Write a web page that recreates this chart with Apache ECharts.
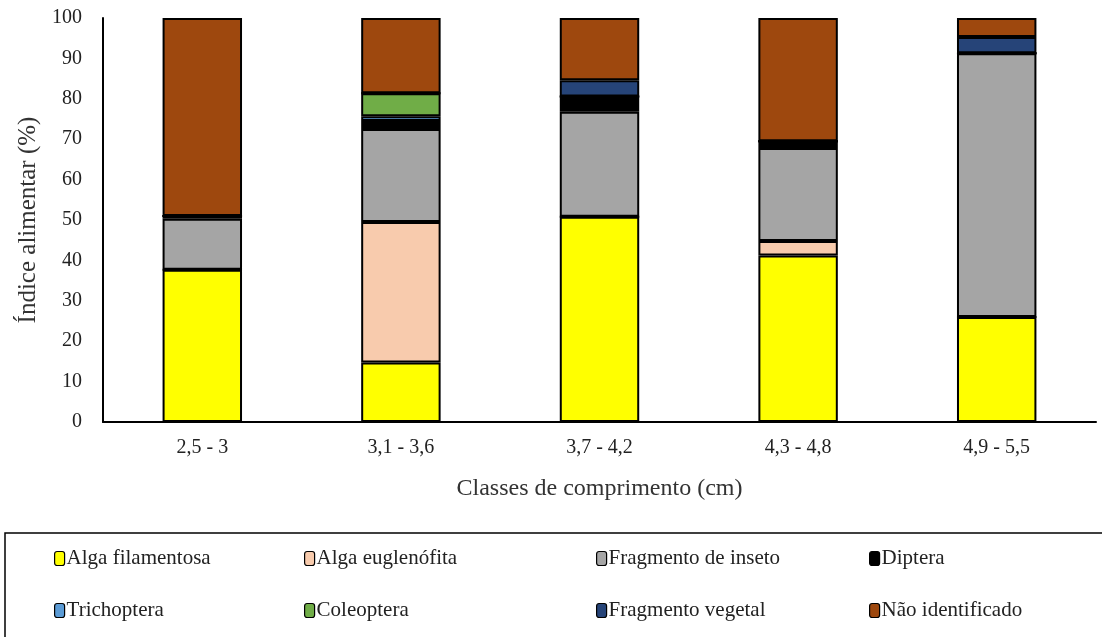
<!DOCTYPE html>
<html>
<head>
<meta charset="utf-8">
<script src="https://cdn.jsdelivr.net/npm/echarts@6/dist/echarts.min.js"></script>
<style>
  html, body { margin: 0; padding: 0; background: #fff; }
  #main { width: 1102px; height: 637px; }
</style>
</head>
<body>
<div id="main"></div>
<script>
// 类别与数据
const classes = ["2,5 - 3", "3,1 - 3,6", "3,7 - 4,2", "4,3 - 4,8", "4,9 - 5,5"];
const algaFilamentosa = [37.7, 14.7, 50.8, 41.2, 26.0];
const algaEuglenofita = [0, 34.8, 0, 3.6, 0];
const fragInseto = [12.6, 23.0, 26.0, 23.0, 65.3];
const diptera = [0.7, 2.0, 3.8, 1.7, 0];
const trichoptera = [0, 1.2, 0, 0, 0];
const coleoptera = [0, 5.7, 0, 0, 0];
const fragVegetal = [0, 0, 4.0, 0, 4.0];
const naoIdentificado = [49.0, 18.6, 15.4, 30.5, 4.7];
const yTicks = [0, 100, 10];

const seriesDefs = [
  { name: "Alga filamentosa", data: algaFilamentosa, color: "#ffff00" },
  { name: "Alga euglenófita", data: algaEuglenofita, color: "#f8cbad" },
  { name: "Fragmento de inseto", data: fragInseto, color: "#a5a5a5" },
  { name: "Diptera", data: diptera, color: "#000000" },
  { name: "Trichoptera", data: trichoptera, color: "#5b9bd5" },
  { name: "Coleoptera", data: coleoptera, color: "#70ad47" },
  { name: "Fragmento vegetal", data: fragVegetal, color: "#264478" },
  { name: "Não identificado", data: naoIdentificado, color: "#9e480e" },
];

const font = "'Liberation Serif', 'Times New Roman', serif";
const legendPos = [
  [54, 548], [304, 548], [596, 548], [869, 548],
  [54, 600], [304, 600], [596, 600], [869, 600],
];

const myChart = echarts.init(document.querySelector("#main"));
const option = {
  animation: false,
  textStyle: { fontFamily: font, color: "#000" },
  grid: { left: 103, right: 6, top: 18, bottom: 215 },
  xAxis: {
    type: "category",
    data: classes,
    name: "Classes de comprimento (cm)",
    nameLocation: "middle",
    nameGap: 55,
    nameTextStyle: { fontFamily: font, fontSize: 24, color: "#333" },
    axisLine: { lineStyle: { color: "#000", width: 2 } },
    axisTick: { show: false },
    axisLabel: { fontFamily: font, fontSize: 20, color: "#222", margin: 16 },
  },
  yAxis: {
    type: "value",
    min: yTicks[0],
    max: yTicks[1],
    interval: yTicks[2],
    name: "Índice alimentar (%)",
    nameLocation: "middle",
    nameGap: 60,
    nameTextStyle: { fontFamily: font, fontSize: 25, color: "#333" },
    axisLine: { show: true, lineStyle: { color: "#000", width: 2 } },
    axisTick: { show: false },
    splitLine: { show: false },
    axisLabel: { fontFamily: font, fontSize: 20, color: "#222", margin: 21 },
  },
  legend: seriesDefs.map((s, i) => ({
    data: [s.name],
    left: legendPos[i][0],
    top: legendPos[i][1],
    itemWidth: 10,
    itemHeight: 14,
    itemGap: 0,
    padding: 0,
    textStyle: { fontFamily: font, fontSize: 21, color: "#222", padding: [0, 0, 0, -3] },
    itemStyle: { borderColor: "#000", borderWidth: 1.2 },
    selectedMode: false,
  })),
  graphic: [
    {
      type: "rect",
      shape: { x: 5, y: 533, width: 1110, height: 115 },
      style: { fill: "none", stroke: "#000", lineWidth: 1.5 },
      silent: true,
    },
  ],
  series: seriesDefs.map((s) => ({
    name: s.name,
    type: "bar",
    stack: "total",
    barWidth: "40%",
    data: s.data,
    itemStyle: { color: s.color, borderColor: "#000", borderWidth: 2 },
  })),
};
myChart.setOption(option);
</script>
</body>
</html>
